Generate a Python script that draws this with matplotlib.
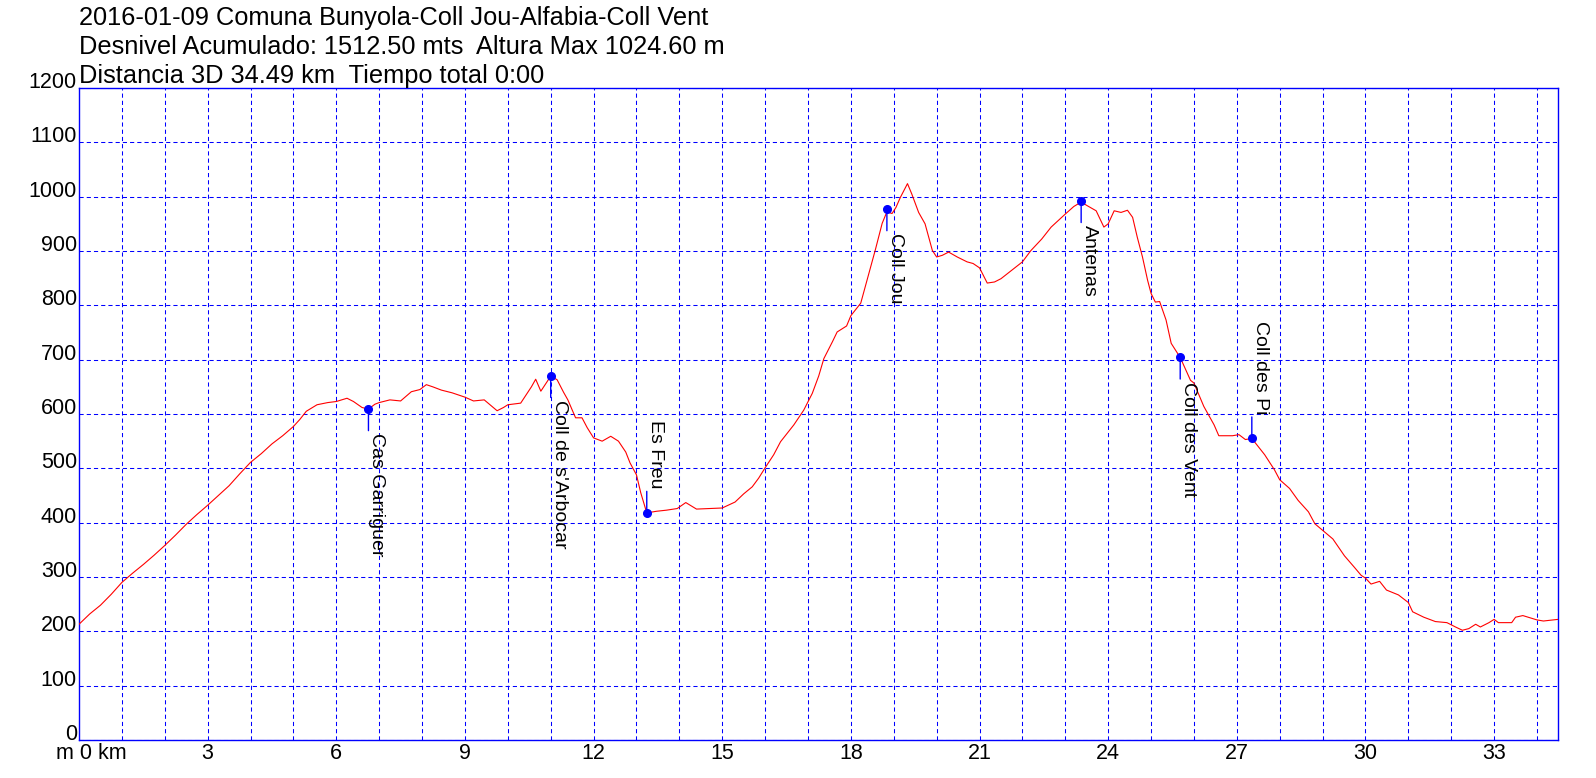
import numpy as np
import matplotlib
matplotlib.use('Agg')
import matplotlib.pyplot as plt

plt.rcParams['font.family'] = ['Liberation Sans', 'DejaVu Sans']
plt.rcParams['lines.scale_dashes'] = False

# textos de cabecera
titulo = ['2016-01-09 Comuna Bunyola-Coll Jou-Alfabia-Coll Vent',
          'Desnivel Acumulado: 1512.50 mts  Altura Max 1024.60 m',
          'Distancia 3D 34.49 km  Tiempo total 0:00']

# perfil: distancia (km) y altura (m)
dist_km = [0.0, 0.25, 0.5, 0.75, 1.0, 1.25, 1.5, 1.75, 2.0, 2.25, 2.5, 2.75, 3.0, 3.25, 3.5, 3.75,
           4.0, 4.25, 4.5, 4.75, 5.0, 5.15, 5.3, 5.55, 5.8, 6.0, 6.25, 6.4, 6.6, 6.75, 6.9, 7.0,
           7.25, 7.5, 7.75, 7.95, 8.1, 8.25, 8.45, 8.7, 9.0, 9.2, 9.45, 9.6, 9.75, 9.9, 10.0, 10.3,
           10.45, 10.55, 10.65, 10.77, 10.92, 11.0, 11.15, 11.3, 11.4, 11.58, 11.73, 11.85, 12.0, 12.2,
           12.4, 12.58, 12.75, 12.85, 13.0, 13.1, 13.24, 13.47, 13.7, 13.95, 14.15, 14.4, 14.7, 15.0,
           15.3, 15.5, 15.7, 15.85, 16.0, 16.2, 16.36, 16.5, 16.67, 16.9, 17.1, 17.25, 17.37, 17.57,
           17.68, 17.9, 18.0, 18.23, 18.38, 18.57, 18.73, 18.84, 18.96, 19.05, 19.15, 19.32, 19.42, 19.58,
           19.73, 19.9, 20.0, 20.13, 20.28, 20.48, 20.71, 20.85, 21.0, 21.18, 21.35, 21.5, 21.74, 22.0,
           22.2, 22.45, 22.67, 23.0, 23.2, 23.37, 23.52, 23.72, 23.9, 24.0, 24.14, 24.3, 24.45, 24.57,
           24.68, 24.8, 24.92, 25.0, 25.1, 25.2, 25.35, 25.47, 25.68, 25.92, 26.0, 26.23, 26.47, 26.58,
           26.9, 27.05, 27.2, 27.35, 27.5, 27.65, 27.88, 28.0, 28.23, 28.43, 28.67, 28.82, 29.0, 29.24,
           29.51, 29.74, 29.9, 30.0, 30.13, 30.33, 30.49, 30.77, 31.0, 31.1, 31.36, 31.63, 31.9, 32.1,
           32.26, 32.41, 32.57, 32.68, 32.88, 33.0, 33.1, 33.41, 33.5, 33.67, 34.0, 34.15, 34.49]
alt_m = [213, 232, 248, 268, 290, 307, 323, 340, 358, 377, 397, 415, 432, 450, 468, 490,
         511, 527, 545, 560, 577, 590, 605, 617, 621, 623, 629, 623, 612, 609, 618, 621,
         626, 624, 641, 645, 654, 650, 644, 639, 631, 624, 626, 616, 606, 612, 617, 620,
         638, 650, 664, 642, 660, 670, 663, 640, 626, 593, 593, 575, 556, 550,
         559, 550, 530, 510, 488, 455, 418, 421, 423, 426, 437, 425, 426, 427,
         438, 453, 466, 482, 501, 525, 549, 563, 580, 607, 638, 670, 702, 733,
         751, 762, 781, 804, 847, 902, 951, 972, 969, 980, 998, 1024, 1005, 971,
         950, 901, 889, 892, 898, 889, 880, 877, 869, 841, 843, 849, 864, 880,
         901, 922, 944, 968, 982, 990, 983, 974, 944, 950, 974, 971, 975, 962,
         925, 889, 846, 822, 806, 807, 773, 730, 704, 662, 657, 614, 580, 560,
         560, 562, 553, 555, 540, 525, 497, 479, 463, 441, 420, 398, 386, 370,
         339, 318, 303, 298, 287, 292, 276, 267, 253, 236, 226, 218, 216, 208,
         202, 205, 213, 208, 216, 222, 216, 216, 226, 229, 221, 219, 222]

# puntos de paso
wp_nombre = ['Cas Garriguer', "Coll de s'Arbocar", 'Es Freu', 'Coll Jou',
             'Antenas', 'Coll des Vent', 'Coll des Pi']
wp_km = [6.75, 11.0, 13.24, 18.84, 23.37, 25.68, 27.35]
wp_alt = [609, 670, 418, 977, 992, 704, 555]
wp_arriba = [False, False, True, False, False, False, True]

x_max = 34.49
y_ticks = list(range(0, 1300, 100))
x_ticks = [3, 6, 9, 12, 15, 18, 21, 24, 27, 30, 33]

W, H = 1596, 778
fig = plt.figure(figsize=(W / 100, H / 100), dpi=100)
ax = fig.add_axes([79 / W, 38 / H, (1558 - 79) / W, (740 - 88) / H])

ax.plot(dist_km, alt_m, color='red', lw=0.8, zorder=3)
ax.plot(wp_km, wp_alt, 'o', color='blue', ms=5.5, zorder=4)

for nombre, x, y, arriba in zip(wp_nombre, wp_km, wp_alt, wp_arriba):
    off = 17.5 if arriba else -17.5
    ax.annotate(nombre, xy=(x, y), xytext=(0, off), textcoords='offset points',
                rotation=-90, ha='left', va='bottom' if arriba else 'top',
                fontsize=14, color='black', zorder=5,
                arrowprops=dict(arrowstyle='-', color='blue', lw=1.0,
                                shrinkA=0, shrinkB=0,
                                relpos=(0, 0) if arriba else (0, 1)))

ax.set_xlim(0, x_max)
ax.set_ylim(0, 1200)
ax.set_xticks(x_ticks)
ax.set_xticks(np.arange(1, 35), minor=True)
ax.set_yticks(y_ticks)
ax.set_yticklabels([])
ax.tick_params(which='both', length=0, labelsize=15.5, pad=2)
ax.grid(which='both', color='blue', linestyle=(0, (3, 2.2)), lw=0.75)
ax.set_axisbelow(True)

for s in ax.spines.values():
    s.set_color('blue')
    s.set_linewidth(1.0)

for v in y_ticks:
    ax.annotate(str(v), xy=(0, v), xycoords=('axes fraction', 'data'),
                xytext=(-1.5, 0), textcoords='offset points',
                ha='right', va='baseline', fontsize=15.5, annotation_clip=False)

ax.annotate('m 0 km', xy=(0, 0), xycoords=('data', 'axes fraction'),
            xytext=(8.6, -2), textcoords='offset points',
            ha='center', va='top', fontsize=15.5, annotation_clip=False)

for i, linea in enumerate(titulo):
    fig.text(79 / W, 1 - (25.5 + 28.5 * i) / H, linea, fontsize=18.3, va='baseline', ha='left')

fig.savefig('out.png', dpi=100)
